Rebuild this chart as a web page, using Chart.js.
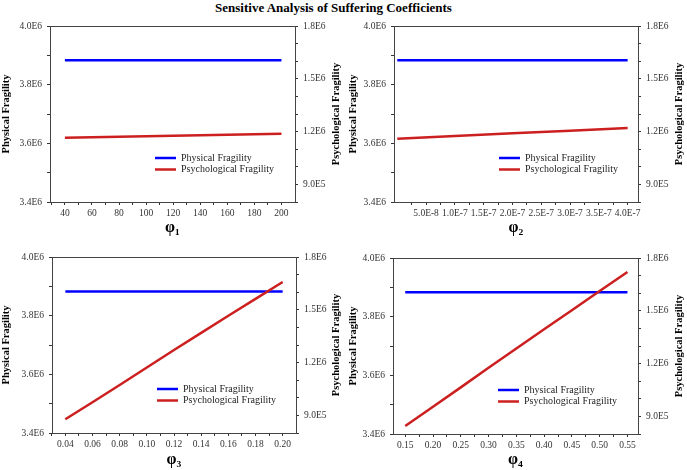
<!DOCTYPE html>
<html>
<head>
<meta charset="utf-8">
<script src="https://cdn.jsdelivr.net/npm/chart.js@4.4.0/dist/chart.umd.min.js"></script>
<style>
  body { margin: 0; background: #fff; }
  #wrap { position: relative; width: 687px; height: 470px; overflow: hidden; }
  #title { position: absolute; left: 0; top: 0; width: 667px; text-align: center;
    font: bold 13px "Liberation Serif", serif; color: #000; line-height: 16px; }
  canvas { position: absolute; }
</style>
</head>
<body>
<div id="wrap">
  <div id="title">Sensitive Analysis of Suffering Coefficients</div>
  <canvas id="c1" width="343" height="224" style="left:0;top:14px"></canvas>
  <canvas id="c2" width="344" height="224" style="left:343px;top:14px"></canvas>
  <canvas id="c3" width="343" height="225" style="left:0;top:245px"></canvas>
  <canvas id="c4" width="344" height="225" style="left:343px;top:245px"></canvas>
</div>
<script>
// series labels
const seriesNames = ["Physical Fragility", "Psychological Fragility"];

// phi1 panel
const phi1X = [40, 80, 120, 160, 200];
const phi1Phys = [3.883e6, 3.883e6, 3.883e6, 3.883e6, 3.883e6];
const phi1Psych = [1.165e6, 1.171e6, 1.176e6, 1.182e6, 1.188e6];

// phi2 panel
const phi2X = [0, 1e-7, 2e-7, 3e-7, 4e-7];
const phi2Phys = [3.883e6, 3.883e6, 3.883e6, 3.883e6, 3.883e6];
const phi2Psych = [1.160e6, 1.175e6, 1.190e6, 1.205e6, 1.220e6];

// phi3 panel
const phi3X = [0.04, 0.06, 0.08, 0.10, 0.12, 0.14, 0.16, 0.18, 0.20];
const phi3Phys = [3.882e6, 3.882e6, 3.882e6, 3.882e6, 3.882e6, 3.882e6, 3.882e6, 3.882e6, 3.882e6];
const phi3Psych = [0.878e6, 0.975e6, 1.073e6, 1.172e6, 1.272e6, 1.369e6, 1.466e6, 1.562e6, 1.658e6];

// phi4 panel
const phi4X = [0.15, 0.20, 0.25, 0.30, 0.35, 0.40, 0.45, 0.50, 0.55];
const phi4Phys = [3.883e6, 3.883e6, 3.883e6, 3.883e6, 3.883e6, 3.883e6, 3.883e6, 3.883e6, 3.883e6];
const phi4Psych = [0.845e6, 0.955e6, 1.065e6, 1.176e6, 1.286e6, 1.395e6, 1.503e6, 1.612e6, 1.721e6];

// x tick labels
const phi1Ticks = [40, 60, 80, 100, 120, 140, 160, 180, 200];
const phi1Minor = [30, 50, 70, 90, 110, 130, 150, 170, 190];
const phi1Labels = ["40", "60", "80", "100", "120", "140", "160", "180", "200"];
const phi2Ticks = [5e-8, 1e-7, 1.5e-7, 2e-7, 2.5e-7, 3e-7, 3.5e-7, 4e-7];
const phi2Minor = [2.5e-8, 7.5e-8, 1.25e-7, 1.75e-7, 2.25e-7, 2.75e-7, 3.25e-7, 3.75e-7];
const phi2Labels = ["5.0E-8", "1.0E-7", "1.5E-7", "2.0E-7", "2.5E-7", "3.0E-7", "3.5E-7", "4.0E-7"];
const phi3Ticks = [0.04, 0.06, 0.08, 0.10, 0.12, 0.14, 0.16, 0.18, 0.20];
const phi3Minor = [0.03, 0.05, 0.07, 0.09, 0.11, 0.13, 0.15, 0.17, 0.19];
const phi3Labels = ["0.04", "0.06", "0.08", "0.10", "0.12", "0.14", "0.16", "0.18", "0.20"];
const phi4Ticks = [0.15, 0.20, 0.25, 0.30, 0.35, 0.40, 0.45, 0.50, 0.55];
const phi4Minor = [0.175, 0.225, 0.275, 0.325, 0.375, 0.425, 0.475, 0.525];
const phi4Labels = ["0.15", "0.20", "0.25", "0.30", "0.35", "0.40", "0.45", "0.50", "0.55"];

// y tick labels
const physTicks = [3.4e6, 3.6e6, 3.8e6, 4.0e6];
const physMinor = [3.5e6, 3.7e6, 3.9e6];
const physLabels = ["3.4E6", "3.6E6", "3.8E6", "4.0E6"];
const psychTicks = [0.9e6, 1.2e6, 1.5e6, 1.8e6];
const psychMinor = [0.8e6, 1.0e6, 1.1e6, 1.3e6, 1.4e6, 1.6e6, 1.7e6];
const psychLabels = ["9.0E5", "1.2E6", "1.5E6", "1.8E6"];

const SERIF = '"Liberation Serif", "Times New Roman", serif';

// legend inside the plot area, top frame line, and the right axis title read bottom-up
const innerLegend = {
  id: 'innerLegend',
  afterDatasetsDraw(chart) {
    const { ctx, chartArea } = chart;
    const x0 = chartArea.left + 105, y0 = chartArea.top + 132;
    ctx.save();
    ctx.strokeStyle = '#444';
    ctx.lineWidth = 1;
    ctx.beginPath();
    ctx.moveTo(chartArea.left, chartArea.top + 0.5);
    ctx.lineTo(chartArea.right, chartArea.top + 0.5);
    ctx.stroke();
    chart.data.datasets.forEach((d, i) => {
      const y = y0 + i * 11.5;
      ctx.strokeStyle = d.borderColor;
      ctx.lineWidth = 2.5;
      ctx.beginPath();
      ctx.moveTo(x0, y);
      ctx.lineTo(x0 + 21, y);
      ctx.stroke();
      ctx.fillStyle = '#222';
      ctx.font = '10px ' + SERIF;
      ctx.textBaseline = 'middle';
      ctx.fillText(d.label, x0 + 26, y);
    });
    const s = chart.scales.y1;
    ctx.translate(s.right - 6.3 - (chart.options.rtp || 0), (s.top + s.bottom) / 2);
    ctx.rotate(-Math.PI / 2);
    ctx.fillStyle = '#000';
    ctx.font = 'bold 10.5px ' + SERIF;
    ctx.textAlign = 'center';
    ctx.textBaseline = 'middle';
    ctx.fillText(seriesNames[1], 0, 0);
    ctx.restore();
  }
};

function tickSetter(major, minor) {
  return s => { s.ticks = major.concat(minor).map(v => ({ value: v })); };
}
function labeller(major, labels) {
  return v => {
    const i = major.findIndex(m => Math.abs(m - v) < Math.abs(m) * 1e-6);
    return i < 0 ? '' : labels[i];
  };
}

function makePanel(id, p) {
  const tickFont = { family: SERIF, size: 9.5 };
  const titleFont = { family: SERIF, size: 10.5, weight: 'bold' };
  new Chart(id, {
    type: 'line',
    data: {
      datasets: [{
        label: seriesNames[0],
        data: p.x.map((v, i) => ({ x: v, y: p.phys[i] })),
        borderColor: '#0000ff',
        borderWidth: 2.5,
        pointRadius: 0,
        yAxisID: 'y',
        order: 1
      }, {
        label: seriesNames[1],
        data: p.x.map((v, i) => ({ x: v, y: p.psych[i] })),
        borderColor: '#cc1f1f',
        borderWidth: 2.5,
        pointRadius: 0,
        yAxisID: 'y1',
        order: 0
      }]
    },
    options: {
      responsive: false,
      animation: false,
      rtp: p.rtp,
      layout: { padding: { top: p.top, left: 0, right: 0, bottom: 0 } },
      plugins: { legend: { display: false }, tooltip: { enabled: false } },
      scales: {
        x: {
          type: 'linear', min: p.xMin, max: p.xMax,
          afterBuildTicks: tickSetter(p.xTicks, p.xMinor),
          afterFit: s => { s.height = p.xh; },
          ticks: { callback: labeller(p.xTicks, p.xLabels), autoSkip: false, maxRotation: 0,
                   font: tickFont, color: '#333', padding: 3 },
          grid: { drawOnChartArea: false, tickLength: 3, color: '#333' },
          border: { color: '#444' },
          title: { display: true, text: p.xTitle, color: '#000',
                   font: { family: SERIF, size: 16, weight: 'bold' }, padding: { top: 0, bottom: 1 } }
        },
        y: {
          position: 'left', min: 3.4e6, max: 4.0e6,
          afterBuildTicks: tickSetter(physTicks, physMinor),
          afterFit: s => { s.width = p.yl; },
          ticks: { callback: labeller(physTicks, physLabels), autoSkip: false,
                   font: tickFont, color: '#333', padding: 5 },
          grid: { drawOnChartArea: false, tickLength: 3, color: '#333' },
          border: { color: '#444' },
          title: { display: true, text: seriesNames[0], color: '#000', font: titleFont,
                   padding: { top: p.ltp, bottom: 0 } }
        },
        y1: {
          position: 'right', min: 0.8e6, max: 1.8e6,
          afterBuildTicks: tickSetter(psychTicks, psychMinor),
          afterFit: s => { s.width = p.yr; },
          ticks: { callback: labeller(psychTicks, psychLabels), autoSkip: false,
                   font: tickFont, color: '#333', padding: 5 },
          grid: { drawOnChartArea: false, tickLength: 3, color: '#333' },
          border: { color: '#444' }
        }
      }
    },
    plugins: [innerLegend]
  });
}

makePanel('c1', { x: phi1X, phys: phi1Phys, psych: phi1Psych, xMin: 29, xMax: 210,
  xTicks: phi1Ticks, xMinor: phi1Minor, xLabels: phi1Labels, xTitle: 'φ₁',
  top: 12, xh: 36, yl: 50, yr: 48, ltp: 0, rtp: 0 });
makePanel('c2', { x: phi2X, phys: phi2Phys, psych: phi2Psych, xMin: -0.57e-8, xMax: 4.18e-7,
  xTicks: phi2Ticks, xMinor: phi2Minor, xLabels: phi2Labels, xTitle: 'φ₂',
  top: 12, xh: 36, yl: 51, yr: 49, ltp: 4, rtp: 1 });
makePanel('c3', { x: phi3X, phys: phi3Phys, psych: phi3Psych, xMin: 0.0302, xMax: 0.2098,
  xTicks: phi3Ticks, xMinor: phi3Minor, xLabels: phi3Labels, xTitle: 'φ₃',
  top: 12, xh: 37, yl: 52, yr: 47, ltp: 0, rtp: 0 });
makePanel('c4', { x: phi4X, phys: phi4Phys, psych: phi4Psych, xMin: 0.128, xMax: 0.569,
  xTicks: phi4Ticks, xMinor: phi4Minor, xLabels: phi4Labels, xTitle: 'φ₄',
  top: 13, xh: 36, yl: 50, yr: 49, ltp: 4, rtp: 1 });
</script>
</body>
</html>
